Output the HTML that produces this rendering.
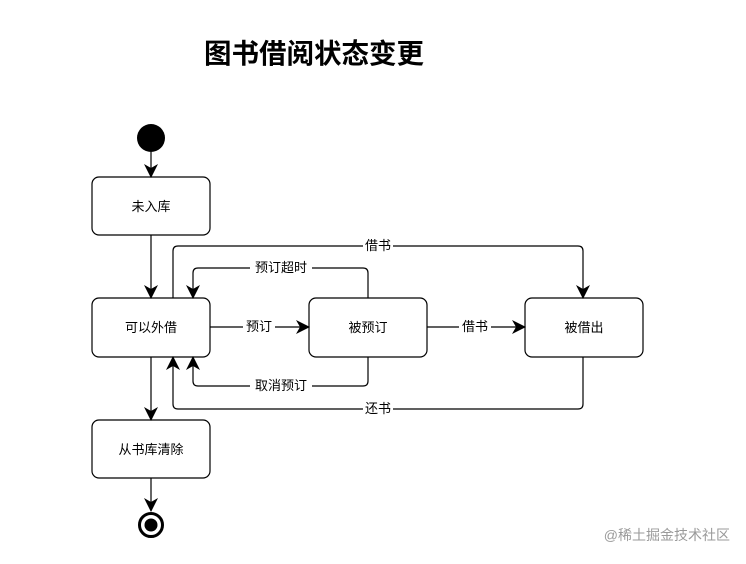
<!DOCTYPE html>
<html><head><meta charset="utf-8"><style>
html,body{margin:0;padding:0;background:#fff;}
svg text{font-family:"Liberation Sans","Noto Sans CJK SC",sans-serif;}
</style></head><body>
<svg width="746" height="559" viewBox="0 0 746 559" xmlns="http://www.w3.org/2000/svg">
<defs><marker id="b" viewBox="0 0 14 14" refX="13" refY="7" markerWidth="14" markerHeight="14" markerUnits="userSpaceOnUse" orient="auto"><path d="M0,0 L14,7 L0,14 L4,7 Z" fill="#000"/></marker></defs>
<text x="314" y="63" font-size="27.5" font-weight="bold" text-anchor="middle" fill="#000">图书借阅状态变更</text>
<circle cx="151" cy="138" r="14" fill="#000"/>
<g stroke="#000" stroke-width="1.2" fill="none">
<line x1="151" y1="152" x2="151" y2="177" marker-end="url(#b)"/>
<line x1="151" y1="235" x2="151" y2="298" marker-end="url(#b)"/>
<line x1="151" y1="357" x2="151" y2="420" marker-end="url(#b)"/>
<line x1="151" y1="478" x2="151" y2="511" marker-end="url(#b)"/>
<line x1="210" y1="327" x2="309" y2="327" marker-end="url(#b)"/>
<line x1="427" y1="327" x2="525" y2="327" marker-end="url(#b)"/>
<path d="M173,298 V251 Q173,246 178,246 H578 Q583,246 583,251 V298" marker-end="url(#b)"/>
<path d="M368,298 V273 Q368,268 363,268 H198 Q193,268 193,273 V298" marker-end="url(#b)"/>
<path d="M368,357 V381 Q368,386 363,386 H198 Q193,386 193,381 V357" marker-end="url(#b)"/>
<path d="M583,357 V404 Q583,409 578,409 H178 Q173,409 173,404 V357" marker-end="url(#b)"/>
<rect x="92" y="177" width="118" height="58" rx="7"/>
<rect x="92" y="298" width="118" height="59" rx="7"/>
<rect x="309" y="298" width="118" height="59" rx="7"/>
<rect x="525" y="298" width="118" height="59" rx="7"/>
<rect x="92" y="420" width="118" height="58" rx="7"/>
</g>
<circle cx="151" cy="525" r="11.5" fill="none" stroke="#000" stroke-width="3"/>
<circle cx="151" cy="525" r="6.5" fill="#000"/>
<g font-size="13" fill="#000" text-anchor="middle">
<text x="151" y="211">未入库</text>
<text x="151" y="332">可以外借</text>
<text x="368" y="332">被预订</text>
<text x="584" y="332">被借出</text>
<text x="151" y="454">从书库清除</text>
</g>
<g font-size="13" fill="#000" text-anchor="middle">
<rect x="243" y="318" width="32" height="17" fill="#fff"/><text x="259" y="331">预订</text>
<rect x="459" y="318" width="32" height="17" fill="#fff"/><text x="475" y="331">借书</text>
<rect x="363" y="237" width="30" height="17" fill="#fff"/><text x="378" y="250">借书</text>
<rect x="250" y="259" width="62" height="17" fill="#fff"/><text x="281" y="272">预订超时</text>
<rect x="250" y="377" width="62" height="17" fill="#fff"/><text x="281" y="390">取消预订</text>
<rect x="363" y="400" width="30" height="17" fill="#fff"/><text x="378" y="413">还书</text>
</g>
<text x="730" y="540" font-size="14" fill="#9a9a9a" text-anchor="end">@稀土掘金技术社区</text>
</svg>
</body></html>
